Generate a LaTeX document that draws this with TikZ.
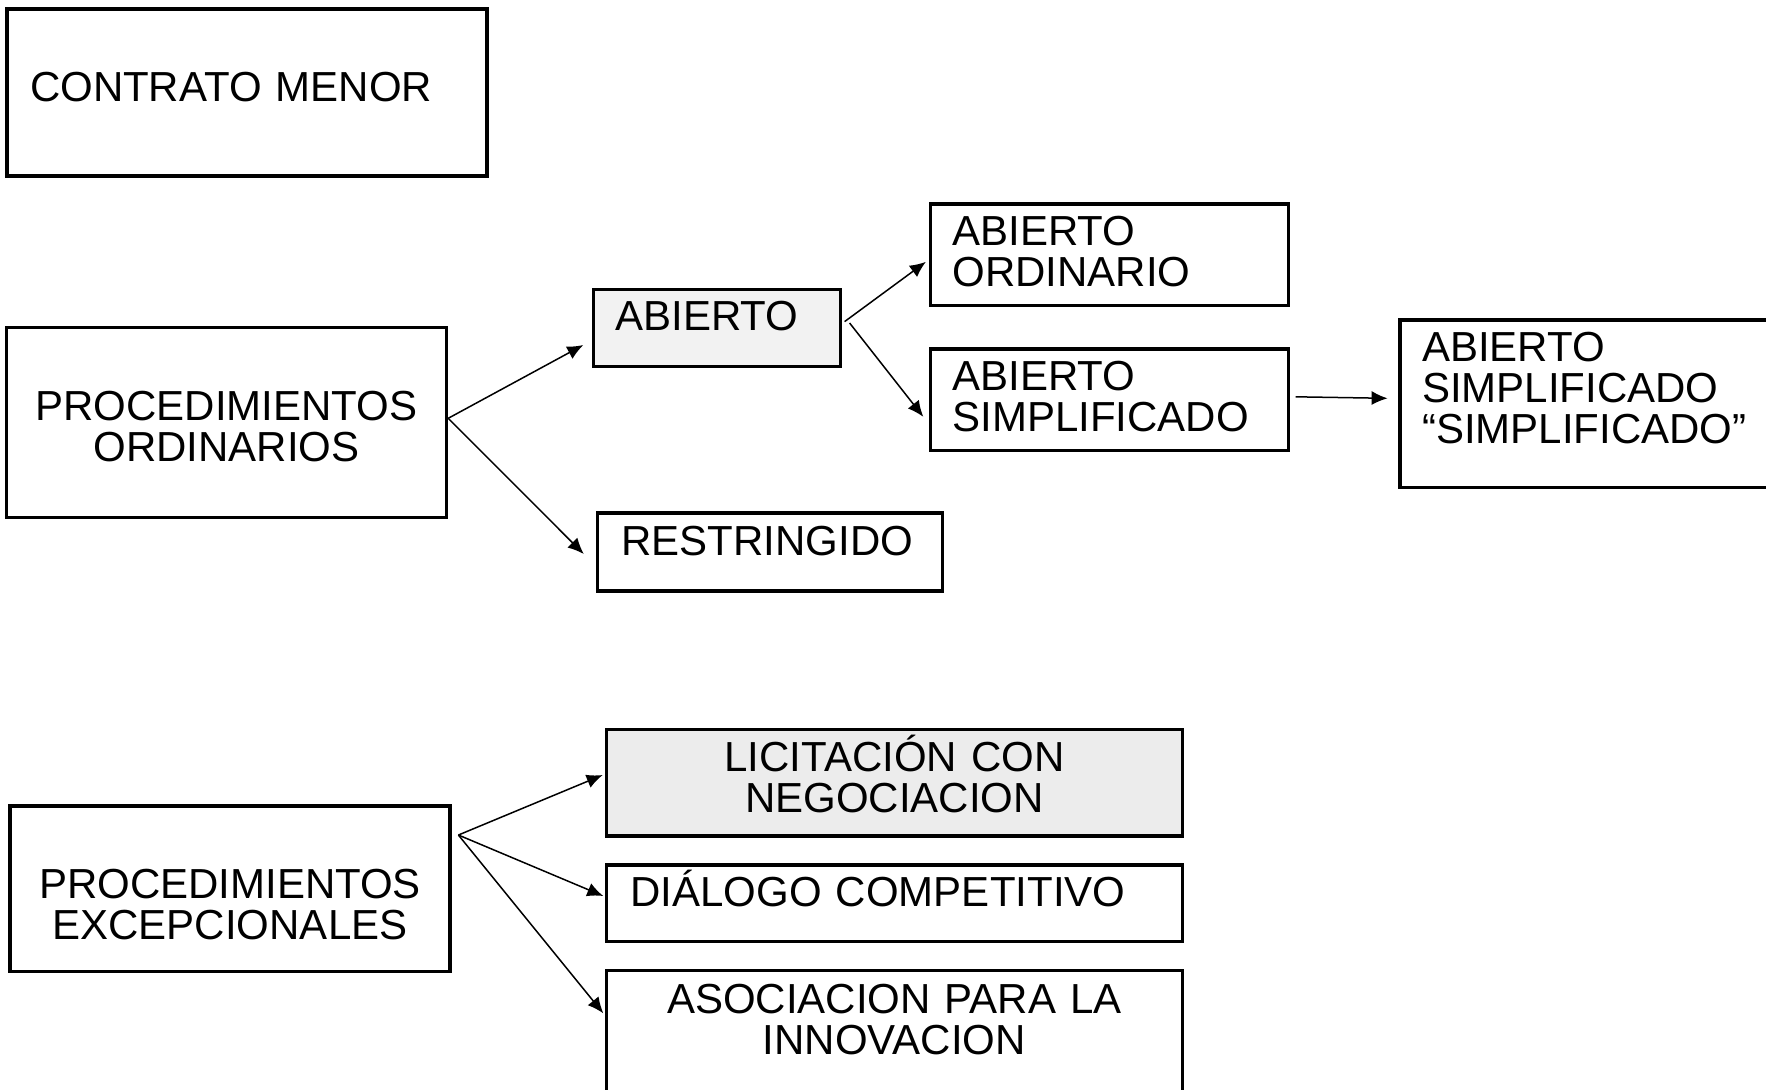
\documentclass[tikz,border=0pt]{standalone}
\usepackage{fontspec}
\setmainfont{Liberation Sans}
\usetikzlibrary{arrows.meta}
\definecolor{gris}{RGB}{242,242,242}
\definecolor{grisb}{RGB}{236,236,236}
\tikzstyle{line} = [draw, line width=0.75pt, -{Latex[length=8pt,width=7pt]}]
\tikzstyle{block} = [draw, rectangle, line width=1.7pt, inner ysep=0pt, font=\fontsize{21}{20.5}\selectfont]
\tikzstyle{leftblock} = [block, align=left, inner xsep=11pt]
\tikzstyle{midblock} = [block, align=center, inner xsep=4pt]

\begin{document}
\begin{tikzpicture}[x=0.5pt, y=-0.5pt]
        \useasboundingbox (0,0) rectangle (1766,1089);
        \node[leftblock, inner xsep=11.5pt, text width=217pt, minimum width=240pt, minimum height=83.5pt, text height=9.2pt, text depth=0pt] (menor) at (247,92.5) {CONTRATO MENOR};
        \node[midblock, text width=212pt, minimum width=220pt, minimum height=94.75pt, text height=0pt, text depth=2.5pt] (ordinarios) at (226.5,422.5) {PROCEDIMIENTOS\\ORDINARIOS};
        \node[leftblock, fill=gris, text width=101.5pt, minimum width=123.5pt, minimum height=38.5pt, text height=2.7pt, text depth=0pt] (abierto) at (717,328) {ABIERTO};
        \node[leftblock, inner xsep=12pt, text width=148.5pt, minimum width=172.5pt, minimum height=39pt, text height=3pt, text depth=0pt] (restringido) at (770,552) {RESTRINGIDO};
        \node[leftblock, text width=157pt, minimum width=179pt, minimum height=50.85pt, text height=0pt, text depth=9.8pt] (abord) at (1109.4,254.8) {ABIERTO\\ORDINARIO};
        \node[leftblock, text width=157pt, minimum width=179pt, minimum height=50.85pt, text height=0pt, text depth=9.8pt] (absimp) at (1109.4,399.8) {ABIERTO\\SIMPLIFICADO};
        \node[leftblock, text width=178pt, minimum width=200pt, minimum height=83.65pt, text height=0pt, text depth=42.7pt] (sumario) at (1600,403.7) {ABIERTO\\SIMPLIFICADO\\“SIMPLIFICADO”};
        \node[midblock, text width=212pt, minimum width=220pt, minimum height=82.85pt, text height=9.5pt, text depth=0pt] (excepcionales) at (230,888.8) {PROCEDIMIENTOS\\EXCEPCIONALES};
        \node[midblock, fill=grisb, text width=279.8pt, minimum width=287.8pt, minimum height=53.35pt, text height=0pt, text depth=11.7pt] (negociacion) at (894.4,782.7) {LICITACIÓN CON\\NEGOCIACION};
        \node[leftblock, inner xsep=12pt, text width=263.8pt, minimum width=287.8pt, minimum height=38.35pt, text height=3.4pt, text depth=0pt] (dialogo) at (894.4,903.3) {DIÁLOGO COMPETITIVO};
        \node[midblock, text width=279.8pt, minimum width=287.8pt, minimum height=69.7pt, text height=0pt, text depth=27pt] (innovacion) at (894.4,1040.4) {ASOCIACION PARA LA\\INNOVACION};
        \path[line] ([yshift=2.1pt]ordinarios.east) -- ([xshift=-4.25pt,yshift=-8.5pt]abierto.west);
        \path[line] ([yshift=2.1pt]ordinarios.east) -- ([xshift=-6pt,yshift=-1pt]restringido.west);
        \path[line] ([xshift=1.2pt,yshift=3.2pt]abierto.east) -- ([xshift=-1.4pt,yshift=-3.5pt]abord.west);
        \path[line] ([xshift=3.7pt,yshift=2.5pt]abierto.east) -- ([xshift=-2.7pt,yshift=-8.5pt]absimp.west);
        \path[line] ([xshift=2.8pt,yshift=1.5pt]absimp.east) -- ([xshift=-5.35pt,yshift=2.7pt]sumario.west);
        \path[line] ([xshift=3.35pt,yshift=26.9pt]excepcionales.east) -- ([xshift=-1.1pt,yshift=3.85pt]negociacion.west);
        \path[line] ([xshift=3.35pt,yshift=26.9pt]excepcionales.east) -- ([xshift=-0.8pt,yshift=3.65pt]dialogo.west);
        \path[line] ([xshift=3.35pt,yshift=26.9pt]excepcionales.east) -- ([xshift=-0.8pt,yshift=13.55pt]innovacion.west);
\end{tikzpicture}
\end{document}
